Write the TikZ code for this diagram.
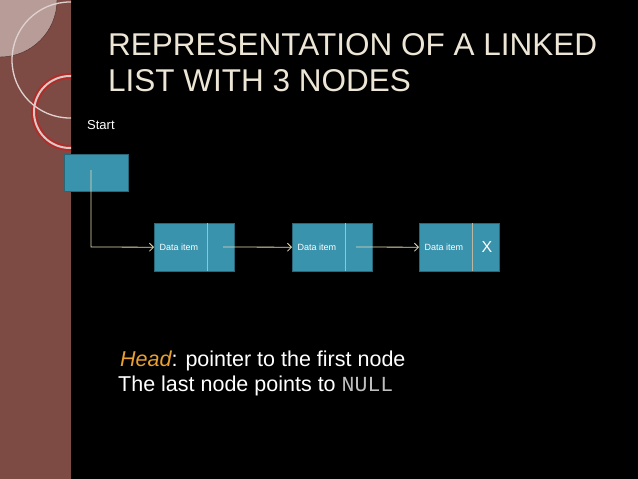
\documentclass[tikz,border=0pt]{standalone}
\usepackage{fontspec}
\setmainfont{Liberation Sans}
\setmonofont{Liberation Mono}
\usetikzlibrary{arrows.meta}
\definecolor{brn}{HTML}{7E4A44}
\definecolor{teal}{HTML}{3A93AC}
\definecolor{cream}{HTML}{EDE6D6}
\definecolor{orng}{HTML}{E8A030}
\definecolor{lin}{HTML}{E8DDB8}
\tikzset{box/.style={draw=teal!70!black,fill=teal,minimum width=80pt,minimum height=48pt,inner sep=0pt},
lk/.style={draw=lin,line width=0.8pt,-{Straight Barb[length=4pt]}},
dl/.style={font=\fontsize{9pt}{10pt}\selectfont,text=white},
tx/.style={anchor=base west,inner sep=0pt}}
\begin{document}
\begin{tikzpicture}[x=1pt,y=-1pt]
\useasboundingbox (0,0) rectangle (638,479);
\fill[black] (0,0) rectangle (638,479);
\fill[brn] (0,0) rectangle (71,479);
\begin{scope}
\clip (0,0) rectangle (71,479);
\fill[brn!55!white, draw=brn!60!black] (0,0) circle[radius=57];
\draw[brn!60!red, line width=6pt] (70,112) circle[radius=36];
\draw[brn!30!white, line width=2pt] (70,112) circle[radius=36];
\draw[white!75!brn, line width=1.3pt] (70,60) circle[radius=58];
\end{scope}
\node[tx,text=cream,font=\fontsize{31.5pt}{32pt}\selectfont] (t1) at (108,56) {REPRESENTATION OF A LINKED};
\node[tx,text=cream,font=\fontsize{31.5pt}{32pt}\selectfont] (t2) at (108,91) {LIST WITH 3 NODES};
\node[tx,text=white,font=\fontsize{13pt}{14pt}\selectfont] (st) at (87,129) {Start};
\node[box,minimum width=64pt,minimum height=37pt,anchor=north west] (s) at (64,154) {};
\foreach \n/\x in {a/154,b/292,c/419}{
 \node[box,anchor=north west] (\n) at (\x,223) {};
 \draw[lin!60!gray] (\x+53,223) -- (\x+53,271);
 \node[dl,anchor=west] (\n l) at (\x+2,247) {Data item};
}
\node[text=white,font=\fontsize{16pt}{16pt}\selectfont] (x) at (487,247) {X};
\coordinate (s0) at (91,170);
\coordinate (s1) at (91,247);
\coordinate (p1) at (223,247);
\coordinate (p2) at (356,247);
\draw[lk] (s0) -- (s1) -- (a.west);
\draw[lk] (p1) -- (b.west);
\draw[lk] (p2) -- (c.west);
\node[tx,font=\fontsize{21.5pt}{22pt}\selectfont,text=white] (h) at (120,366) {\textcolor{orng}{\itshape Head}: pointer to the first node};
\node[tx,font=\fontsize{21.5pt}{22pt}\selectfont,text=white] (n) at (118,391) {The last node points to \textcolor{lightgray}{\ttfamily NULL}};
\end{tikzpicture}
\end{document}
